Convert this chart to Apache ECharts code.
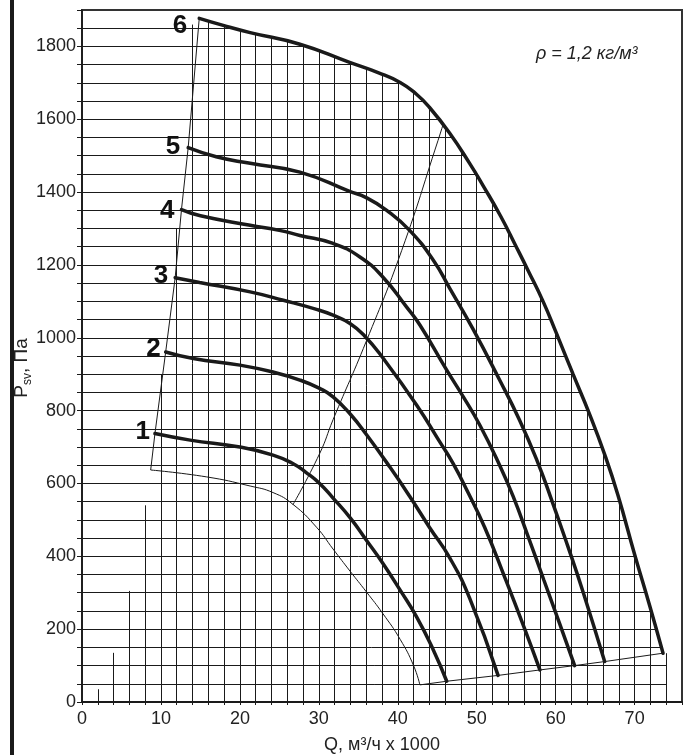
<!DOCTYPE html>
<html>
<head>
<meta charset="utf-8">
<script src="https://cdn.jsdelivr.net/npm/echarts@6/dist/echarts.min.js"></script>
<style>
  html, body { margin: 0; padding: 0; background: #fff; }
  #chart { width: 688px; height: 755px; }
</style>
</head>
<body>
<div id="chart"></div>
<script>
// Q in 1000 m3/h, P in Pa
const curve1 = [[9.24,737],[13.7,719],[20,700],[24.2,678],[26.7,655],[28.4,630],[30.1,600],[31.8,560],[34,505],[36,445],[38.1,381],[40.3,307],[42.4,233],[44.5,143],[46.2,57]];
const curve2 = [[10.6,961],[14.1,943],[20,925],[24.2,906],[27.6,884],[30.1,861],[31.8,838],[34,790],[36,735],[39,645],[41.5,565],[44,480],[46.6,395],[49.1,285],[52.7,73]];
const curve3 = [[11.8,1165],[14.9,1152],[21.3,1126],[25.5,1103],[29.7,1078],[31.8,1062],[33.9,1040],[35.8,1005],[38.1,945],[42.4,815],[45.3,715],[47,655],[48.9,575],[51,480],[53.5,345],[56,205],[58,88]];
const curve4 = [[12.6,1352],[15,1335],[21.3,1309],[25,1295],[27.6,1281],[31.8,1259],[35.2,1222],[38.1,1167],[41.1,1085],[42.8,1035],[46.2,911],[48.3,838],[50.4,760],[52.9,650],[54.6,565],[56.5,455],[58.5,335],[60.5,215],[62.4,100]];
const curve5 = [[13.45,1522],[17,1497],[21.3,1479],[27.6,1455],[33.9,1402],[36,1385],[38.6,1350],[41.5,1295],[44.5,1213],[46.6,1135],[49.5,1025],[52.9,884],[55.4,775],[57.6,665],[59.4,560],[61.5,430],[63.5,300],[66.2,111]];
const curve6 = [[14.85,1877],[18,1857],[21.3,1838],[27.6,1806],[33.9,1756],[37.5,1728],[40.3,1701],[42.3,1670],[44,1633],[46.6,1561],[49.1,1479],[50.8,1418],[53,1335],[55,1250],[56.5,1185],[58.4,1100],[60.1,1012],[62.2,900],[64.3,790],[66.2,680],[67.9,567],[70,405],[71.9,265],[73.6,134]];
const curves = [curve1, curve2, curve3, curve4, curve5, curve6];
const curveNames = ['1', '2', '3', '4', '5', '6'];

// thin outline lines
const leftEdge = [[8.7,637],[9.24,737],[10.6,961],[11.8,1165],[12.6,1352],[13.45,1522],[14.85,1877]];
const lowerCurve = [[8.7,637],[15.8,618],[21.3,593],[24.2,575],[26.7,543],[29.7,480],[31.8,420],[34,358],[36,303],[38.1,243],[40.3,172],[42,100],[42.8,47]];
const bottomEdge = [[42.8,47],[46.2,57],[52.7,73],[58,88],[62.4,100],[66.2,111],[73.6,134]];
const effLine = [[26.7,541],[30.1,682],[31.8,775],[36,990],[40.5,1240],[45.1,1542],[45.8,1590]];

// tops of the short grid verticals on the left
const shortVLines = [[2,35],[4,135],[6,305],[8,540],[10,900],[12,1300],[14,1860]];
const gridRightX = 74;

const font = '"Liberation Sans", Arial, sans-serif';
const ink = '#1a1a1a';

// where the grid stops on the right (along curve 6)
function envX(p) {
	const last = curve6[curve6.length - 1];
	if (p <= last[1]) return gridRightX;
	for (let i = 0; i < curve6.length - 1; i++) {
		const a = curve6[i], b = curve6[i + 1];
		if (p <= a[1] && p >= b[1]) return a[0] + (b[0] - a[0]) * (a[1] - p) / (a[1] - b[1]);
	}
	return null;
}
function envP(x) {
	const last = curve6[curve6.length - 1];
	if (x >= last[0]) return last[1];
	for (let i = 0; i < curve6.length - 1; i++) {
		const a = curve6[i], b = curve6[i + 1];
		if (x >= a[0] && x <= b[0]) return a[1] + (b[1] - a[1]) * (x - a[0]) / (b[0] - a[0]);
	}
	return null;
}

let hLines = [];
for (let p = 50; p <= 1850; p += 50) {
	let xe = envX(p);
	if (xe != null) hLines.push({ coords: [[0, p], [xe, p]] });
}
let vLines = [];
for (let x = 2; x <= gridRightX; x += 2) {
	let s = shortVLines.find(d => d[0] === x);
	let top = s ? s[1] : envP(x);
	vLines.push({ coords: [[x, 0], [x, top]] });
}

const chart = echarts.init(document.getElementById('chart'));

let series = [
	{
		type: 'lines', coordinateSystem: 'cartesian2d', silent: true, z: 1,
		lineStyle: { color: ink, width: 1, opacity: 1 },
		data: hLines
	},
	{
		type: 'lines', coordinateSystem: 'cartesian2d', silent: true, z: 1,
		lineStyle: { color: ink, width: 1, opacity: 1 },
		data: vLines
	}
];
[leftEdge, bottomEdge].forEach(d => {
	series.push({ type: 'line', data: d, showSymbol: false, silent: true, z: 3, lineStyle: { color: ink, width: 1 } });
});
[lowerCurve, effLine].forEach(d => {
	series.push({ type: 'line', data: d, smooth: 0.5, showSymbol: false, silent: true, z: 3, lineStyle: { color: ink, width: 1 } });
});
curves.forEach((d, i) => {
	series.push({
		type: 'line', name: curveNames[i], data: d, smooth: 0.5,
		showSymbol: false, silent: true, z: 4, lineStyle: { color: ink, width: 3.5, cap: 'round' }
	});
});
// curve numbers next to the start points
const labelOffsets = [[-3, -2], [-3, -3], [-5, -2], [-5, 1], [-6, -1], [-10, 7]];
series.push({
	type: 'scatter', symbolSize: 0, silent: true, z: 5,
	itemStyle: { opacity: 1, color: ink },
	data: curves.map((d, i) => ({
		value: d[0], name: curveNames[i],
		label: { offset: labelOffsets[i] }
	})),
	label: {
		show: true, position: 'left', distance: 2, formatter: '{b}', opacity: 1,
		fontFamily: font, fontWeight: 'bold', fontSize: 26, color: '#111'
	}
});

chart.setOption({
	animation: false,
	backgroundColor: '#fff',
	grid: {
		left: 82, right: 6, top: 10, bottom: 53, outerBoundsMode: 'none', containLabel: false,
		show: true, borderColor: '#333', borderWidth: 2
	},
	xAxis: {
		type: 'value', min: 0, max: 76, interval: 2,
		axisLine: { lineStyle: { color: ink, width: 2 } },
		axisTick: { length: 3, lineStyle: { color: ink } },
		axisLabel: {
			formatter: v => (v % 10 === 0 && v <= 70 ? String(v) : ''),
			fontFamily: font, fontSize: 18, color: '#222', margin: 8
		},
		splitLine: { show: false },
		name: 'Q, м³/ч x 1000', nameLocation: 'middle', nameGap: 34,
		nameTextStyle: { fontFamily: font, fontSize: 18, color: '#222' }
	},
	yAxis: {
		type: 'value', min: 0, max: 1900, interval: 50,
		axisLine: { show: true, lineStyle: { color: ink, width: 1.5 } },
		axisTick: { show: true, length: 5, lineStyle: { color: ink } },
		axisLabel: {
			formatter: v => (v % 200 === 0 && v <= 1800 ? String(v) : ''),
			fontFamily: font, fontSize: 18, color: '#222', margin: 6
		},
		splitLine: { show: false }
	},
	graphic: [
		{ type: 'line', shape: { x1: 12, y1: 0, x2: 12, y2: 755 }, style: { stroke: ink, lineWidth: 4 } },
		{
			type: 'text', x: 22, y: 368, rotation: Math.PI / 2,
			style: {
				text: '{a|P}{b|sv}{a|, Па}', align: 'center', verticalAlign: 'middle',
				rich: {
					a: { fontFamily: font, fontSize: 19, fill: '#222', lineHeight: 24 },
					b: { fontFamily: font, fontSize: 12, fill: '#222', lineHeight: 11, verticalAlign: 'bottom' }
				}
			}
		},
		{ type: 'text', x: 536, y: 45, style: { text: 'ρ = 1,2 кг/м³', font: 'italic 18px ' + font, fill: '#222' } }
	],
	series: series
});
</script>
</body>
</html>
